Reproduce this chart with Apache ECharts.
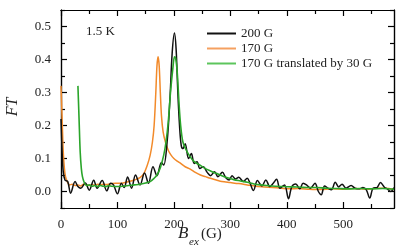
<!DOCTYPE html>
<html><head><meta charset="utf-8">
<script src="https://cdn.jsdelivr.net/npm/echarts@6/dist/echarts.min.js"></script>
<style>html,body{margin:0;padding:0;background:#fff}#c{width:399px;height:247px}</style>
</head><body><div id="c"></div>
<script>
const seriesNames = ['200 G', '170 G', '170 G translated by 30 G'];
const xMajorTicks = [0, 100, 200, 300, 400, 500];
const xMinorTicks = [50, 150, 250, 350, 450, 550];
const yMajorTicks = [0, 0.1, 0.2, 0.3, 0.4, 0.5];
const yMinorTicks = [-0.05, 0.05, 0.15, 0.25, 0.35, 0.45, 0.55];
const tempLabel = '1.5 K';

const black200 = [[0,0.22],[2,0.12],[4,0.06],[7,0.035],[12,0.03],[17,-0.005],[25,0.03],[30,0.015],[35,0.01],[43,0.026],[50,0.004],[58,0.034],[64,0.01],[73,0.033],[81,0.002],[88,0.025],[93,0.02],[100,-0.007],[107,0.025],[112,0.012],[118,0.044],[125,0.01],[132,0.05],[140,0.02],[148,0.056],[155,0.025],[163,0.075],[170,0.048],[178,0.088],[182,0.08],[188,0.15],[193,0.28],[197,0.42],[201,0.48],[204,0.43],[207,0.3],[210,0.2],[213,0.14],[216,0.13],[220,0.145],[226,0.1],[231,0.115],[236,0.085],[241,0.09],[246,0.07],[252,0.075],[259,0.058],[265,0.048],[272,0.06],[278,0.045],[286,0.058],[292,0.042],[298,0.035],[303,0.048],[309,0.038],[315,0.043],[323,0.03],[330,0.04],[335,0.025],[341,0.003],[348,0.033],[356,0.017],[363,0.035],[370,0.015],[376,0.025],[382,0.037],[388,0.01],[396,0.02],[403,-0.022],[409,0.015],[416,0.023],[423,0.008],[429,0.025],[435,0.02],[442,0.01],[450,0.025],[456,0.0],[461,-0.01],[467,0.017],[473,0.01],[479,0.005],[486,0.028],[492,0.014],[498,0.022],[505,0.01],[514,0.018],[521,0.01],[529,0.008],[535,0.012],[541,0.005],[547,-0.02],[553,0.01],[560,0.012],[566,0.027],[573,0.013],[578,0.008],[584,0.0],[590,0.012]];

const orange170 = [[0,0.32],[2,0.22],[4,0.12],[6,0.07],[8,0.045],[11,0.03],[15,0.02],[20,0.022],[25,0.018],[30,0.02],[35,0.017],[40,0.022],[45,0.02],[50,0.018],[55,0.021],[60,0.019],[65,0.022],[70,0.02],[75,0.022],[80,0.021],[90,0.024],[100,0.025],[110,0.026],[120,0.03],[130,0.035],[140,0.042],[147,0.055],[153,0.08],[158,0.11],[162,0.15],[165,0.2],[168,0.3],[170,0.38],[172,0.408],[174,0.38],[176,0.3],[178,0.23],[181,0.18],[185,0.15],[190,0.125],[195,0.11],[200,0.1],[206,0.092],[212,0.085],[220,0.075],[229,0.068],[238,0.058],[247,0.05],[256,0.045],[265,0.04],[275,0.035],[285,0.03],[300,0.027],[315,0.024],[330,0.02],[345,0.016],[360,0.014],[375,0.012],[390,0.01],[405,0.008],[420,0.009],[440,0.007],[460,0.006],[480,0.008],[500,0.007],[520,0.009],[540,0.007],[560,0.01],[575,0.01],[590,0.006]];

const green170t = [[30,0.32],[32,0.22],[34,0.12],[36,0.07],[38,0.045],[41,0.028],[45,0.018],[50,0.02],[55,0.016],[60,0.018],[65,0.015],[70,0.018],[75,0.016],[80,0.015],[85,0.018],[90,0.016],[100,0.015],[110,0.016],[120,0.018],[130,0.02],[140,0.022],[150,0.026],[158,0.03],[165,0.04],[170,0.05],[176,0.072],[182,0.11],[186,0.15],[190,0.21],[194,0.3],[198,0.37],[201,0.408],[203,0.405],[206,0.36],[209,0.27],[212,0.2],[216,0.15],[222,0.125],[229,0.105],[235,0.092],[241,0.085],[247,0.079],[255,0.07],[265,0.062],[275,0.055],[285,0.048],[295,0.042],[306,0.036],[318,0.032],[330,0.028],[342,0.023],[353,0.02],[365,0.018],[380,0.016],[394,0.015],[410,0.014],[425,0.013],[440,0.012],[453,0.012],[470,0.01],[490,0.009],[512,0.008],[530,0.009],[550,0.008],[570,0.009],[590,0.007]];

const FONT = '"Liberation Serif", "DejaVu Serif", serif';
const TXT = '#222';
const X_MIN = 0, X_MAX = 590, Y_MIN = -0.05, Y_MAX = 0.55;
const GRID = { left: 61, top: 10, right: 5, bottom: 39 };

function xAx(grid, pos, ticks, len, showLabel) {
  return {
    type: 'value', gridIndex: grid, position: pos, min: X_MIN, max: X_MAX,
    axisLine: { show: true, onZero: false, lineStyle: { color: '#000', width: 1.2 } },
    axisTick: { show: true, inside: true, length: len, customValues: ticks, lineStyle: { color: '#000', width: 1.2 } },
    axisLabel: showLabel ? { show: true, customValues: ticks, margin: 10, fontFamily: FONT, fontSize: 13, color: TXT } : { show: false },
    splitLine: { show: false }
  };
}
function yAx(grid, pos, ticks, len, showLabel) {
  return {
    type: 'value', gridIndex: grid, position: pos, min: Y_MIN, max: Y_MAX,
    axisLine: { show: true, onZero: false, lineStyle: { color: '#000', width: 1.2 } },
    axisTick: { show: true, inside: true, length: len, customValues: ticks, lineStyle: { color: '#000', width: 1.2 } },
    axisLabel: showLabel ? { show: true, customValues: ticks, margin: 10, fontFamily: FONT, fontSize: 13, color: TXT, formatter: v => v.toFixed(1) } : { show: false },
    splitLine: { show: false }
  };
}

const chart = echarts.init(document.getElementById('c'), null, { renderer: 'canvas' });
chart.setOption({
  animation: false,
  backgroundColor: '#fff',
  grid: [Object.assign({}, GRID), Object.assign({}, GRID)],
  xAxis: [
    xAx(0, 'bottom', xMajorTicks, 6, true),
    xAx(0, 'top', xMajorTicks, 6, false),
    xAx(1, 'bottom', xMinorTicks, 4, false),
    xAx(1, 'top', xMinorTicks, 4, false)
  ],
  yAxis: [
    yAx(0, 'left', yMajorTicks, 6, true),
    yAx(0, 'right', yMajorTicks, 6, false),
    yAx(1, 'left', yMinorTicks, 4, false),
    yAx(1, 'right', yMinorTicks, 4, false)
  ],
  legend: {
    orient: 'vertical', left: 202, top: 22, itemWidth: 29, itemHeight: 2, itemGap: 2,
    icon: 'rect',
    textStyle: { fontFamily: FONT, fontSize: 13, color: TXT },
    data: seriesNames
  },
  series: [
    { name: seriesNames[0], type: 'line', xAxisIndex: 0, yAxisIndex: 0, data: black200, showSymbol: false, smooth: 0.35, lineStyle: { color: '#111', width: 1.5 }, itemStyle: { color: '#111' }, z: 3 },
    { name: seriesNames[1], type: 'line', xAxisIndex: 0, yAxisIndex: 0, data: orange170, showSymbol: false, smooth: 0.3, lineStyle: { color: '#f28a2a', width: 1.5 }, itemStyle: { color: '#f5a060' }, z: 2 },
    { name: seriesNames[2], type: 'line', xAxisIndex: 0, yAxisIndex: 0, data: green170t, showSymbol: false, smooth: 0.3, lineStyle: { color: '#2aa52a', width: 1.6 }, itemStyle: { color: '#5cc55c' }, z: 4 }
  ],
  graphic: [
    { type: 'text', left: 86, top: 25, style: { text: tempLabel, font: '13px ' + FONT, fill: TXT } },
    { type: 'text', x: 13, y: 107, rotation: Math.PI / 2, style: { text: 'FT', font: 'italic 16px ' + FONT, fill: TXT, align: 'center', verticalAlign: 'middle' } },
    { type: 'text', x: 178, y: 234, style: { text: 'B', font: 'italic 17px ' + FONT, fill: TXT, align: 'left', verticalAlign: 'middle' } },
    { type: 'text', x: 189, y: 242, style: { text: 'ex', font: 'italic 11px ' + FONT, fill: TXT, align: 'left', verticalAlign: 'middle' } },
    { type: 'text', x: 201, y: 234, style: { text: '(G)', font: '15px ' + FONT, fill: TXT, align: 'left', verticalAlign: 'middle' } }
  ]
});
</script></body></html>
